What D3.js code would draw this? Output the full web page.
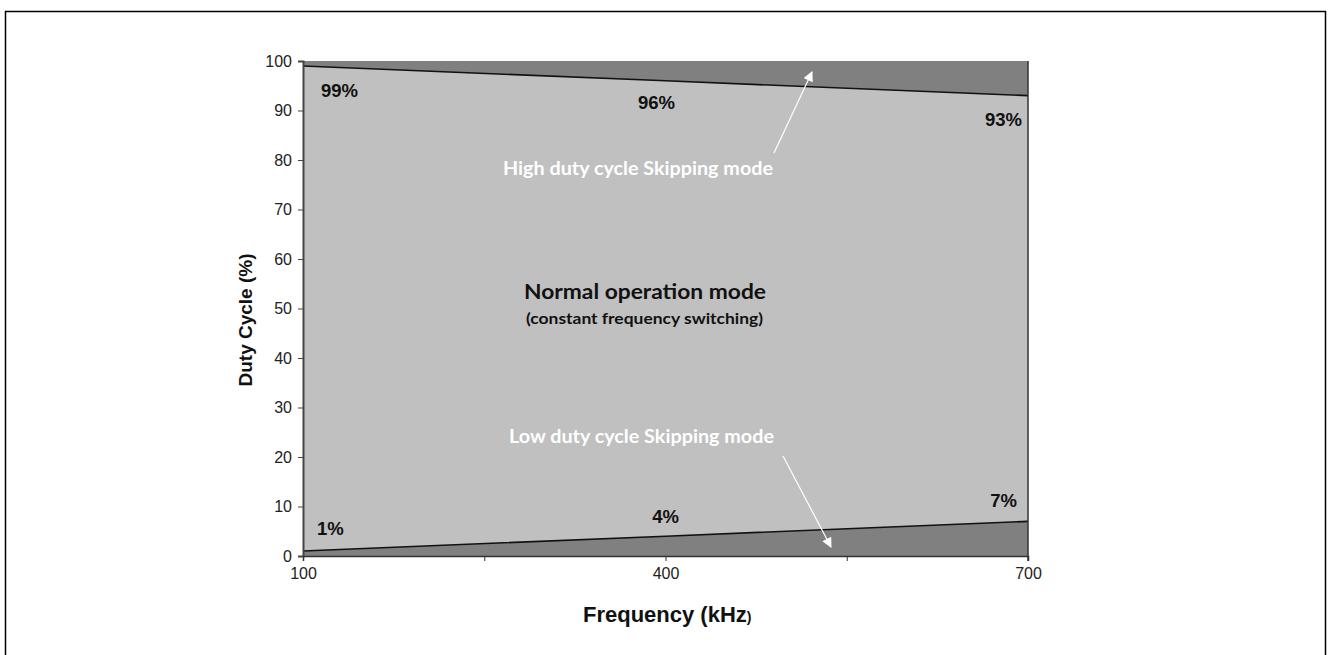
<!DOCTYPE html>
<html>
<head>
<meta charset="utf-8">
<script src="https://cdn.jsdelivr.net/npm/d3@7"></script>
<style>
  body { margin: 0; background: #fff; }
  svg { display: block; }
</style>
</head>
<body>
<div id="chart-area"></div>
<script>
// data
var freqs = [100, 400, 700];
var highLimit = [99, 96, 93];
var lowLimit = [1, 4, 7];
var yTicks = [0, 10, 20, 30, 40, 50, 60, 70, 80, 90, 100];
var xTickMarks = [100, 250, 400, 550, 700];
var xTickLabels = [100, 400, 700];

// layout of the percent labels (anchor + offset from the point)
var highLabelPos = [
  {anchor: "start", dx: 18, dy: 31},
  {anchor: "middle", dx: -9, dy: 28},
  {anchor: "end", dx: -6, dy: 30}
];
var lowLabelPos = [
  {anchor: "start", dx: 14, dy: -16},
  {anchor: "middle", dx: 0, dy: -13},
  {anchor: "end", dx: -11, dy: -14}
];

var W = 1329, H = 655;
var margin = {left: 303, top: 61};
var width = 1028 - 303;
var height = 556 - 61;

var svg = d3.select("#chart-area")
    .append("svg")
    .attr("width", W)
    .attr("height", H);

// outer frame
svg.append("rect")
    .attr("x", 5.5).attr("y", 11.5)
    .attr("width", 1320).attr("height", 700)
    .attr("fill", "none")
    .attr("stroke", "#000")
    .attr("stroke-width", 1.5);

var x = d3.scaleLinear().domain([100, 700]).range([0, width]);
var y = d3.scaleLinear().domain([0, 100]).range([height, 0]);

var g = svg.append("g")
    .attr("transform", "translate(" + margin.left + "," + margin.top + ")");

var rows = freqs.map(function(f, i) {
  return {f: f, hi: highLimit[i], lo: lowLimit[i]};
});

// skipping regions (dark) then normal region (light)
g.append("rect")
    .attr("x", x(100)).attr("y", y(100))
    .attr("width", x(700) - x(100)).attr("height", y(0) - y(100))
    .attr("fill", "#808080");

var area = d3.area()
    .x(function(d) { return x(d.f); })
    .y0(function(d) { return y(d.lo); })
    .y1(function(d) { return y(d.hi); });

g.append("path")
    .datum(rows)
    .attr("d", area)
    .attr("fill", "#c0c0c0");

var lineHi = d3.line().x(function(d) { return x(d.f); }).y(function(d) { return y(d.hi); });
var lineLo = d3.line().x(function(d) { return x(d.f); }).y(function(d) { return y(d.lo); });

g.append("path").datum(rows).attr("d", lineHi)
    .attr("fill", "none").attr("stroke", "#111").attr("stroke-width", 1.6);
g.append("path").datum(rows).attr("d", lineLo)
    .attr("fill", "none").attr("stroke", "#111").attr("stroke-width", 1.6);

// right edge of plot
g.append("line")
    .attr("x1", x(700)).attr("x2", x(700))
    .attr("y1", y(100)).attr("y2", y(0) + 5)
    .attr("stroke", "#333").attr("stroke-width", 1.5);

// axes
var leftAxis = d3.axisLeft(y).tickValues(yTicks).tickSize(5).tickPadding(6);
var yAxisG = g.append("g").attr("class", "y-axis").call(leftAxis);
yAxisG.attr("font-size", 16).attr("font-family", "Liberation Sans, Arial, sans-serif");
yAxisG.select(".domain").attr("stroke", "#444").attr("stroke-width", 2);
yAxisG.selectAll(".tick line").attr("stroke", "#444");
yAxisG.selectAll(".tick text").attr("fill", "#222");

var bottomAxis = d3.axisBottom(x).tickValues(xTickMarks).tickSize(5).tickPadding(7)
    .tickFormat(function(d) { return xTickLabels.indexOf(d) >= 0 ? d : ""; });
var xAxisG = g.append("g").attr("class", "x-axis")
    .attr("transform", "translate(0," + height + ")")
    .call(bottomAxis);
xAxisG.attr("font-size", 16).attr("font-family", "Liberation Sans, Arial, sans-serif");
xAxisG.select(".domain").attr("stroke", "#333").attr("stroke-width", 1.5);
xAxisG.selectAll(".tick line").attr("stroke", "#333");
xAxisG.selectAll(".tick text").attr("fill", "#222");

// percent labels
function pctLabels(vals, pos) {
  g.selectAll(null)
    .data(vals)
    .enter()
    .append("text")
    .attr("x", function(d, i) { return x(freqs[i]) + pos[i].dx; })
    .attr("y", function(d, i) { return y(d) + pos[i].dy; })
    .attr("text-anchor", function(d, i) { return pos[i].anchor; })
    .attr("font-family", "Liberation Sans, Arial, sans-serif")
    .attr("font-weight", "bold")
    .attr("font-size", 18.5)
    .attr("fill", "#111")
    .text(function(d) { return d + "%"; });
}
pctLabels(highLimit, highLabelPos);
pctLabels(lowLimit, lowLabelPos);

// annotations
var ann = "Lato, 'Open Sans', sans-serif";
svg.append("text")
    .attr("x", 503).attr("y", 175)
    .attr("font-family", ann).attr("font-weight", "bold").attr("font-size", 18.5)
    .attr("fill", "#fff")
    .attr("textLength", 270).attr("lengthAdjust", "spacingAndGlyphs")
    .text("High duty cycle Skipping mode");

svg.append("text")
    .attr("x", 509).attr("y", 443)
    .attr("font-family", ann).attr("font-weight", "bold").attr("font-size", 18.5)
    .attr("fill", "#fff")
    .attr("textLength", 265).attr("lengthAdjust", "spacingAndGlyphs")
    .text("Low duty cycle Skipping mode");

svg.append("text")
    .attr("x", 524).attr("y", 299)
    .attr("font-family", ann).attr("font-weight", "bold").attr("font-size", 21)
    .attr("fill", "#111")
    .attr("textLength", 242).attr("lengthAdjust", "spacingAndGlyphs")
    .text("Normal operation mode");

svg.append("text")
    .attr("x", 526).attr("y", 324)
    .attr("font-family", ann).attr("font-weight", "bold").attr("font-size", 14.5)
    .attr("fill", "#111")
    .attr("textLength", 237).attr("lengthAdjust", "spacingAndGlyphs")
    .text("(constant frequency switching)");

// arrows
var defs = svg.append("defs");
defs.append("marker")
    .attr("id", "arrow")
    .attr("viewBox", "0 0 10 10")
    .attr("refX", 9).attr("refY", 5)
    .attr("markerWidth", 11).attr("markerHeight", 10)
    .attr("markerUnits", "userSpaceOnUse")
    .attr("orient", "auto")
    .append("path")
    .attr("d", "M0,0 L10,5 L0,10 z")
    .attr("fill", "#fff");

svg.append("line")
    .attr("x1", 774).attr("y1", 153).attr("x2", 812).attr("y2", 72)
    .attr("stroke", "#fff").attr("stroke-width", 1.2)
    .attr("marker-end", "url(#arrow)");
svg.append("line")
    .attr("x1", 783).attr("y1", 456).attr("x2", 831).attr("y2", 547)
    .attr("stroke", "#fff").attr("stroke-width", 1.2)
    .attr("marker-end", "url(#arrow)");

// axis titles
svg.append("text")
    .attr("transform", "translate(252,320) rotate(-90)")
    .attr("text-anchor", "middle")
    .attr("font-family", "Liberation Sans, Arial, sans-serif")
    .attr("font-weight", "bold").attr("font-size", 19)
    .attr("fill", "#111")
    .text("Duty Cycle (%)");

var xt = svg.append("text")
    .attr("x", 583).attr("y", 622)
    .attr("font-family", "Liberation Sans, Arial, sans-serif")
    .attr("font-weight", "bold").attr("font-size", 22)
    .attr("fill", "#111");
xt.append("tspan").text("Frequency (kHz");
xt.append("tspan").attr("font-size", 14).text(")");
</script>
</body>
</html>
